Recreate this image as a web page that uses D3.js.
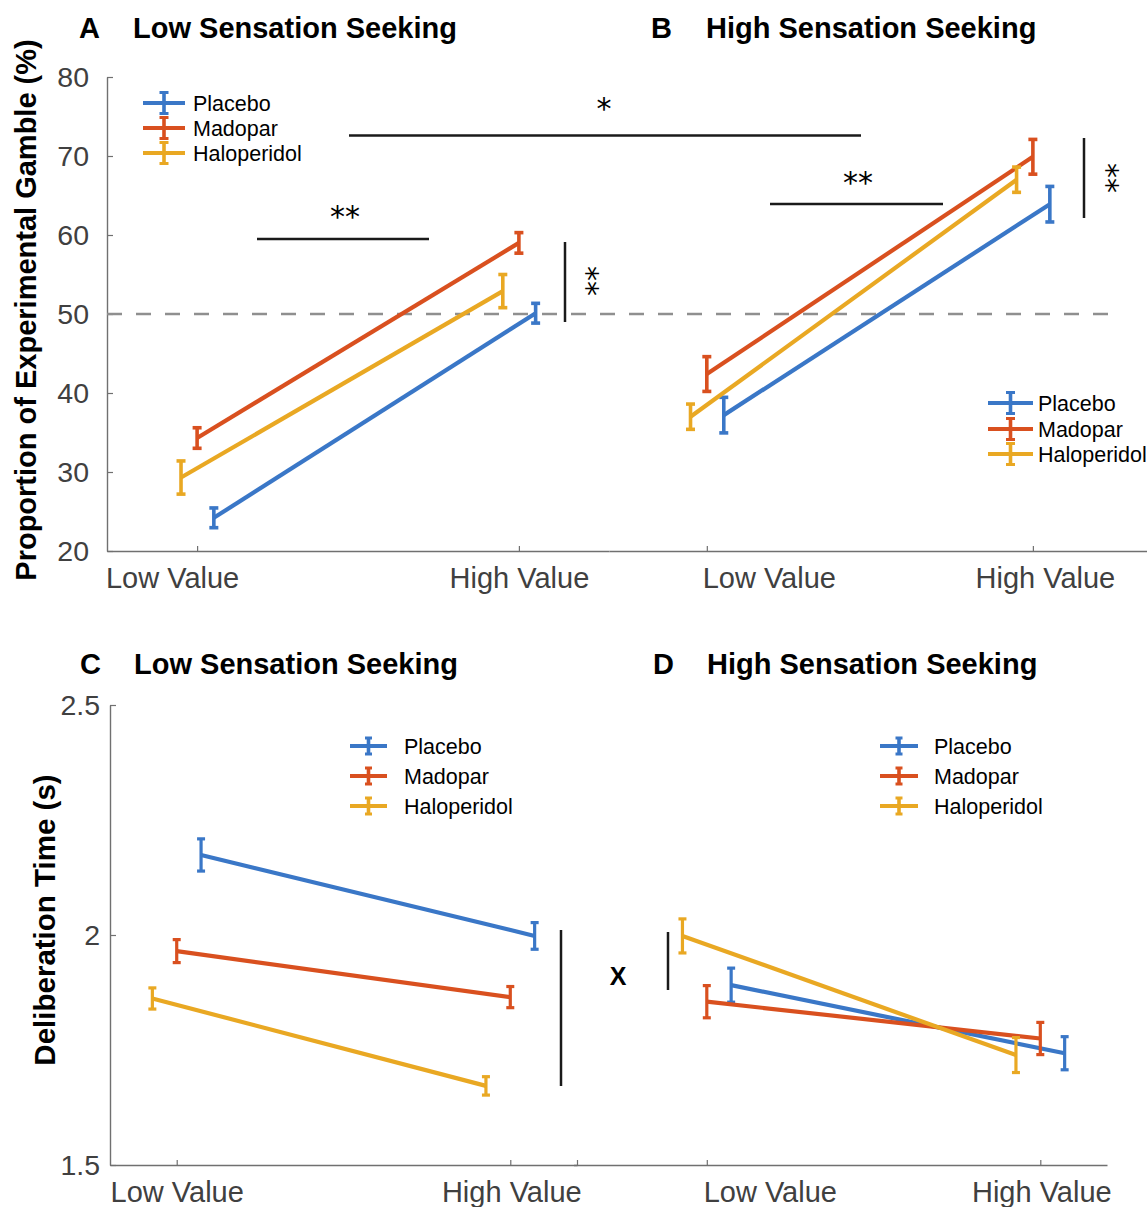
<!DOCTYPE html>
<html>
<head>
<meta charset="utf-8">
<script src="https://cdn.jsdelivr.net/npm/d3@7"></script>
<style>
  html, body { margin: 0; padding: 0; background: #fff; }
  svg { display: block; font-family: "Liberation Sans", Arial, Helvetica, sans-serif; }
</style>
</head>
<body>
<svg id="chart" width="1147" height="1207"></svg>
<script>
// ---------------- DATA ----------------
const categories = ["Low Value", "High Value"];
const drugs = ["Placebo", "Madopar", "Haloperidol"];
const drugColors = ["#3a77c7", "#d9501f", "#e9a823"];

// Panel A: Low sensation seeking, proportion of experimental gamble (%)
const gambleLowMean = { Placebo: [24.2, 50.1], Madopar: [34.3, 59.0], Haloperidol: [29.3, 52.9] };
const gambleLowErr  = { Placebo: [1.25, 1.25], Madopar: [1.3, 1.3],   Haloperidol: [2.1, 2.1] };
// Panel B: High sensation seeking
const gambleHighMean = { Placebo: [37.2, 63.9], Madopar: [42.4, 69.9], Haloperidol: [37.0, 67.0] };
const gambleHighErr  = { Placebo: [2.25, 2.25], Madopar: [2.2, 2.2],   Haloperidol: [1.6, 1.6] };

// Panel C: Low sensation seeking, deliberation time (s)
const rtLowMean = { Placebo: [2.174, 1.998], Madopar: [1.965, 1.865], Haloperidol: [1.862, 1.672] };
const rtLowErr  = { Placebo: [0.035, 0.029], Madopar: [0.025, 0.023], Haloperidol: [0.023, 0.020] };
// Panel D: High sensation seeking
const rtHighMean = { Placebo: [1.891, 1.743], Madopar: [1.855, 1.775], Haloperidol: [1.998, 1.739] };
const rtHighErr  = { Placebo: [0.037, 0.036], Madopar: [0.035, 0.035], Haloperidol: [0.037, 0.038] };

const gambleTicks = [20, 30, 40, 50, 60, 70, 80];
const rtTicks = [1.5, 2, 2.5];
const chanceLevel = 50;

// ---------------- LAYOUT ----------------
const svg = d3.select("#chart");
const color = d3.scaleOrdinal().domain(drugs).range(drugColors);
const axisColor = "#707070";
const tickTextColor = "#404040";

const yTop = d3.scaleLinear().domain([20, 80]).range([551, 77]);
const xA = d3.scaleLinear().domain([0.72, 2.28]).range([107, 609]);
const xB = d3.scaleLinear().domain([0.7, 2.35]).range([609, 1147]);
const yBot = d3.scaleLinear().domain([1.5, 2.5]).range([1165, 705]);
const xC = d3.scaleLinear().domain([0.8, 2.2]).range([110, 577]);
const xD = d3.scaleLinear().domain([0.6, 2.2]).range([573.4, 1107]);

const topOffset = { Placebo: 0.052, Madopar: 0, Haloperidol: -0.05 };
const botOffset = { Placebo: 0.073, Madopar: 0, Haloperidol: -0.073 };

function styleAxis(g) {
  g.select(".domain").attr("stroke", axisColor).attr("stroke-width", 1.4);
  g.selectAll(".tick line").attr("stroke", axisColor).attr("stroke-width", 1.2);
  g.selectAll(".tick text").attr("fill", tickTextColor).attr("font-size", 28.5);
}

// ---- y axes
const gyTop = svg.append("g").attr("transform", "translate(107,0)")
  .call(d3.axisLeft(yTop).tickValues(gambleTicks).tickSize(-6).tickSizeOuter(0).tickPadding(18).tickFormat(d3.format("d")));
styleAxis(gyTop);
const gyBot = svg.append("g").attr("transform", "translate(110,0)")
  .call(d3.axisLeft(yBot).tickValues(rtTicks).tickSize(-6).tickSizeOuter(0).tickPadding(10).tickFormat(d => String(d)));
styleAxis(gyBot);

// ---- x axes
function xAxis(scale, y, ticks, labels, dxs) {
  const g = svg.append("g").attr("transform", `translate(0,${y})`)
    .call(d3.axisBottom(scale).tickValues(ticks).tickSize(-5).tickSizeOuter(0).tickPadding(16)
      .tickFormat((d, i) => labels[i] || ""));
  styleAxis(g);
  g.selectAll(".tick text").attr("font-size", 29).attr("dx", (d, i) => dxs[i] || 0);
  return g;
}
xAxis(xA, 551, [1, 2], categories, [-25, 0]);
xAxis(xB, 551, [1, 2], categories, [62, 12]);
xAxis(xD, 1165, [1, 2], categories, [63, 1]);
xAxis(xC, 1165, [1, 2, 2.2], categories, [0, 1, 0]);

// ---- chance line
svg.append("line")
  .attr("x1", 107).attr("x2", 1112)
  .attr("y1", yTop(chanceLevel)).attr("y2", yTop(chanceLevel))
  .attr("stroke", "#8f8f8f").attr("stroke-width", 2.5).attr("stroke-dasharray", "15,14");

// ---- series
function drawPanel(xs, ys, means, errs, offsets, capW, barW) {
  const g = svg.append("g");
  drugs.forEach(drug => {
    const pts = categories.map((c, i) => ({
      x: xs(i + 1 + offsets[drug]),
      y: ys(means[drug][i]),
      lo: ys(means[drug][i] - errs[drug][i]),
      hi: ys(means[drug][i] + errs[drug][i])
    }));
    g.append("path")
      .attr("d", d3.line().x(p => p.x).y(p => p.y)(pts))
      .attr("fill", "none").attr("stroke", color(drug)).attr("stroke-width", 4.2);
    pts.forEach(p => {
      g.append("line").attr("x1", p.x).attr("x2", p.x).attr("y1", p.lo).attr("y2", p.hi)
        .attr("stroke", color(drug)).attr("stroke-width", barW);
      [p.lo, p.hi].forEach(yy => g.append("line")
        .attr("x1", p.x - capW / 2).attr("x2", p.x + capW / 2).attr("y1", yy).attr("y2", yy)
        .attr("stroke", color(drug)).attr("stroke-width", barW));
    });
  });
}
drawPanel(xA, yTop, gambleLowMean, gambleLowErr, topOffset, 9, 3.6);
drawPanel(xB, yTop, gambleHighMean, gambleHighErr, topOffset, 9, 3.6);
drawPanel(xC, yBot, rtLowMean, rtLowErr, botOffset, 8, 3.2);
drawPanel(xD, yBot, rtHighMean, rtHighErr, botOffset, 8, 3.2);

// ---- legends
function legend(x0, x1, tx, ys, barH, capW) {
  const g = svg.append("g");
  drugs.forEach((drug, i) => {
    const y = ys[i], xm = (x0 + x1) / 2;
    g.append("line").attr("x1", x0).attr("x2", x1).attr("y1", y).attr("y2", y)
      .attr("stroke", color(drug)).attr("stroke-width", 4.2);
    g.append("line").attr("x1", xm).attr("x2", xm).attr("y1", y - barH).attr("y2", y + barH)
      .attr("stroke", color(drug)).attr("stroke-width", 3.6);
    [y - barH, y + barH].forEach(yy => g.append("line")
      .attr("x1", xm - capW / 2).attr("x2", xm + capW / 2).attr("y1", yy).attr("y2", yy)
      .attr("stroke", color(drug)).attr("stroke-width", 3));
    g.append("text").attr("x", tx).attr("y", y).attr("dy", "0.36em")
      .attr("font-size", 21.5).attr("fill", "#000").text(drug);
  });
}
legend(143, 185, 193, [103, 128, 153], 10.5, 9);
legend(988, 1033, 1038, [403, 429, 454], 10.5, 9);
legend(350, 387, 404, [746, 776, 806], 8, 7);
legend(880, 918, 934, [746, 776, 806], 8, 7);

// ---- titles
function title(lx, tx, y, letter, text) {
  svg.append("text").attr("x", lx).attr("y", y).attr("font-size", 29).attr("font-weight", "bold").text(letter);
  svg.append("text").attr("x", tx).attr("y", y).attr("font-size", 29).attr("font-weight", "bold").text(text);
}
title(79, 133, 38, "A", "Low Sensation Seeking");
title(651, 706, 38, "B", "High Sensation Seeking");
title(80, 134, 674, "C", "Low Sensation Seeking");
title(653, 707, 674, "D", "High Sensation Seeking");

// ---- y labels
svg.append("text").attr("transform", "translate(36,310) rotate(-90)")
  .attr("text-anchor", "middle").attr("font-size", 29).attr("font-weight", "bold")
  .text("Proportion of Experimental Gamble (%)");
svg.append("text").attr("transform", "translate(55,920) rotate(-90)")
  .attr("text-anchor", "middle").attr("font-size", 29.5).attr("font-weight", "bold")
  .text("Deliberation Time (s)");

// ---- significance marks
function hline(x1, x2, y) {
  svg.append("line").attr("x1", x1).attr("x2", x2).attr("y1", y).attr("y2", y)
    .attr("stroke", "#1a1a1a").attr("stroke-width", 2.5);
}
function vline(x, y1, y2) {
  svg.append("line").attr("x1", x).attr("x2", x).attr("y1", y1).attr("y2", y2)
    .attr("stroke", "#1a1a1a").attr("stroke-width", 2.5);
}
function stars(x, y, s, rotate) {
  svg.append("text").attr("transform", `translate(${x},${y})` + (rotate ? " rotate(90)" : ""))
    .attr("text-anchor", "middle").attr("dy", "0.5em")
    .attr("font-family", "'DejaVu Sans', sans-serif").attr("font-size", 30).text(s);
}
hline(257, 429, 239); stars(345, 212, "**", false);
vline(565, 242, 322); stars(592, 281, "**", true);
hline(349, 861, 135.5); stars(604, 104, "*", false);
hline(770, 943, 204); stars(858, 178, "**", false);
vline(1084, 138, 218); stars(1112, 178, "**", true);
vline(561, 930, 1086);
svg.append("text").attr("x", 618).attr("y", 976).attr("dy", "0.36em").attr("text-anchor", "middle")
  .attr("font-size", 25).attr("font-weight", "bold").text("X");
vline(668, 932, 990);
</script>
</body>
</html>
